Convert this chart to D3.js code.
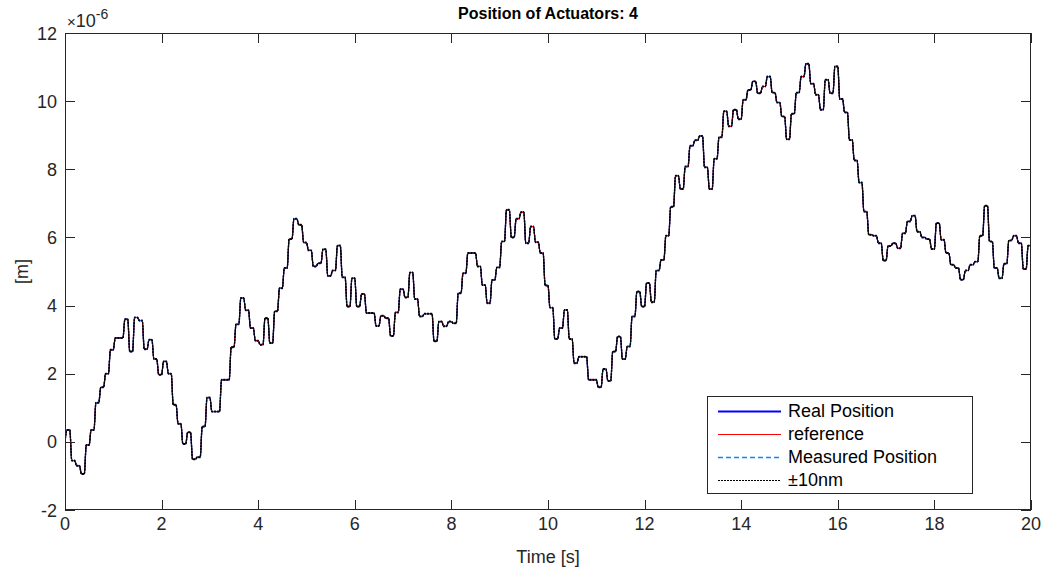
<!DOCTYPE html>
<html>
<head>
<meta charset="utf-8">
<script src="https://cdn.jsdelivr.net/npm/d3@7"></script>
<style>
  body { margin: 0; background: #fff; }
  svg { display: block; }
  text { font-family: "Liberation Sans", Arial, Helvetica, sans-serif; }
</style>
</head>
<body>
<svg id="chart" width="1052" height="575"></svg>
<script>
// Setpoint sequence of actuator 4 (units of 1e-6 m), one level per update period
const stepPeriod = 0.1;   // s
const startValue = 0;
const levels_00_04 = [0.35, -0.55, -0.7, -0.94, -0.09, 0.35, 1.15, 1.6, 2.0, 2.7,
  3.05, 3.05, 3.6, 2.65, 3.65, 3.56, 2.72, 3.0, 2.43, 1.97,
  2.36, 2.0, 1.09, 0.53, -0.06, 0.28, -0.51, -0.45, 0.45, 1.3,
  0.89, 0.89, 1.82, 1.82, 2.78, 3.45, 4.22, 3.86, 3.34, 2.97];
const levels_04_08 = [2.85, 3.63, 2.9, 3.83, 4.51, 5.1, 5.95, 6.55, 6.37, 5.85,
  5.62, 5.15, 5.24, 5.65, 4.87, 5.03, 5.76, 4.83, 3.97, 4.8,
  3.97, 4.34, 3.78, 3.78, 3.4, 3.7, 3.63, 3.11, 3.8, 4.48,
  4.24, 4.97, 4.19, 3.68, 3.76, 3.76, 2.95, 3.53, 3.39, 3.53];
const levels_08_12 = [3.48, 4.36, 4.95, 5.54, 5.54, 5.15, 4.6, 4.07, 4.75, 5.12,
  5.88, 6.81, 6.0, 6.55, 6.74, 5.83, 6.32, 5.86, 5.54, 4.59,
  3.94, 3.02, 3.34, 3.87, 3.02, 2.31, 2.5, 2.5, 1.82, 1.82,
  1.6, 2.14, 1.79, 2.65, 3.09, 2.43, 2.8, 3.68, 4.41, 3.97];
const levels_12_16 = [4.66, 4.1, 5.03, 5.34, 6.05, 6.9, 7.81, 7.42, 8.08, 8.69,
  8.85, 8.98, 8.06, 7.42, 8.31, 8.94, 9.7, 9.26, 9.75, 9.47,
  10.04, 10.33, 10.58, 10.23, 10.43, 10.72, 10.25, 9.96, 9.55, 8.88,
  9.63, 10.25, 10.72, 11.1, 10.51, 10.19, 9.75, 10.63, 10.23, 11.02];
const levels_16_20 = [10.06, 9.67, 8.86, 8.26, 7.61, 6.76, 6.08, 6.05, 5.83, 5.32,
  5.75, 5.83, 5.68, 6.12, 6.47, 6.64, 6.17, 6.0, 5.95, 5.66,
  6.42, 5.93, 5.54, 5.2, 5.1, 4.76, 5.03, 5.2, 5.29, 6.05,
  6.93, 5.88, 5.1, 4.8, 5.23, 5.91, 6.05, 5.83, 5.07, 5.76];

const xTicks = [0, 2, 4, 6, 8, 10, 12, 14, 16, 18, 20];
const yTicks = [-2, 0, 2, 4, 6, 8, 10, 12];
const legendLabels = ["Real Position", "reference", "Measured Position", "\u00b110nm"];
const toleranceBand = 0.01; // ±10 nm expressed in 1e-6 m

const levels = [].concat(levels_00_04, levels_04_08, levels_08_12, levels_12_16, levels_16_20);

// Build the trajectory: each level is reached after a short ramp and held until the next update
const ramp = 0.04;
function trajectory(offset) {
  const pts = [[0, startValue + offset]];
  levels.forEach((v, k) => {
    const t0 = k * stepPeriod;
    pts.push([t0 + ramp, v + offset]);
    pts.push([t0 + stepPeriod, v + offset]);
  });
  return pts;
}

const svg = d3.select("#chart");
const box = { left: 65, right: 1031, top: 33, bottom: 510 };
const x = d3.scaleLinear().domain([0, 20]).range([box.left, box.right]);
const y = d3.scaleLinear().domain([-2, 12]).range([box.bottom, box.top]);
const axisColor = "#262626";
const tickLen = 10;

svg.append("defs").append("clipPath").attr("id", "plotClip")
  .append("rect").attr("x", box.left).attr("y", box.top)
  .attr("width", box.right - box.left).attr("height", box.bottom - box.top);

// Line styles shared by the plot and the legend
const styles = [
  { stroke: "#0000ff", width: 1.2, dash: null, legendWidth: 2 },     // real position
  { stroke: "#ff0000", width: 1, dash: null, legendWidth: 1 },       // reference
  { stroke: "#0a84ff", width: 1, dash: "5,3", legendWidth: 1.4 },    // measured position
  { stroke: "#000000", width: 1.3, dash: "2,1", legendWidth: 1 }     // ±10 nm bounds
];

// Data lines
const line = d3.line().x(d => x(d[0])).y(d => y(d[1])).curve(d3.curveMonotoneX);
const plot = svg.append("g").attr("clip-path", "url(#plotClip)");
const series = [
  { pts: trajectory(0), style: styles[0] },
  { pts: trajectory(0), style: styles[1] },
  { pts: trajectory(0), style: styles[2] },
  { pts: trajectory(toleranceBand), style: styles[3] },
  { pts: trajectory(-toleranceBand), style: styles[3] }
];
series.forEach(s => {
  plot.append("path").attr("d", line(s.pts))
    .attr("fill", "none").attr("stroke", s.style.stroke).attr("stroke-width", s.style.width)
    .attr("stroke-dasharray", s.style.dash).attr("stroke-linejoin", "round");
});

// Axes box and inward ticks on all four sides
const axes = svg.append("g").attr("stroke", axisColor).attr("stroke-width", 1).attr("fill", "none");
axes.append("rect").attr("x", box.left + 0.5).attr("y", box.top + 0.5)
  .attr("width", box.right - box.left - 1).attr("height", box.bottom - box.top - 1);
xTicks.forEach(t => {
  const px = Math.round(x(t)) + 0.5;
  axes.append("line").attr("x1", px).attr("x2", px).attr("y1", box.bottom).attr("y2", box.bottom - tickLen);
  axes.append("line").attr("x1", px).attr("x2", px).attr("y1", box.top).attr("y2", box.top + tickLen);
});
yTicks.forEach(t => {
  const py = Math.round(y(t)) + 0.5;
  axes.append("line").attr("y1", py).attr("y2", py).attr("x1", box.left).attr("x2", box.left + tickLen);
  axes.append("line").attr("y1", py).attr("y2", py).attr("x1", box.right).attr("x2", box.right - tickLen);
});

// Tick labels
const labels = svg.append("g").attr("fill", axisColor).attr("font-size", 18);
xTicks.forEach(t => {
  labels.append("text").attr("x", x(t)).attr("y", box.bottom + 20)
    .attr("text-anchor", "middle").text(t);
});
yTicks.forEach(t => {
  labels.append("text").attr("x", box.left - 8).attr("y", y(t) + 6.5)
    .attr("text-anchor", "end").text(t);
});

// Exponent marker
const expo = svg.append("text").attr("x", box.left + 2).attr("y", 27).attr("fill", axisColor).attr("font-size", 18);
expo.append("tspan").attr("font-size", 15).text("\u00d7");
expo.append("tspan").text("10");
expo.append("tspan").attr("font-size", 14).attr("dy", -8).text("-6");

// Axis labels and title
svg.append("text").attr("x", (box.left + box.right) / 2).attr("y", 563)
  .attr("text-anchor", "middle").attr("font-size", 18).attr("fill", axisColor).text("Time [s]");
svg.append("text").attr("transform", `translate(28,${(box.top + box.bottom) / 2}) rotate(-90)`)
  .attr("text-anchor", "middle").attr("font-size", 18).attr("fill", axisColor).text("[m]");
svg.append("text").attr("x", (box.left + box.right) / 2).attr("y", 19)
  .attr("text-anchor", "middle").attr("font-size", 16).attr("font-weight", "bold").attr("fill", "#000")
  .text("Position of Actuators: 4");

// Legend
const lg = svg.append("g").attr("transform", "translate(707,396)");
lg.append("rect").attr("x", 0.5).attr("y", 0.5).attr("width", 265).attr("height", 97)
  .attr("fill", "#fff").attr("stroke", axisColor).attr("stroke-width", 1);
legendLabels.forEach((name, i) => {
  const ry = 15 + i * 23;
  const st = styles[i];
  lg.append("line").attr("x1", 11).attr("x2", 74).attr("y1", ry + 0.5).attr("y2", ry + 0.5)
    .attr("stroke", st.stroke).attr("stroke-width", st.legendWidth).attr("stroke-dasharray", st.dash);
  lg.append("text").attr("x", 81).attr("y", ry + 6).attr("font-size", 18).attr("fill", "#000").text(name);
});
</script>
</body>
</html>
